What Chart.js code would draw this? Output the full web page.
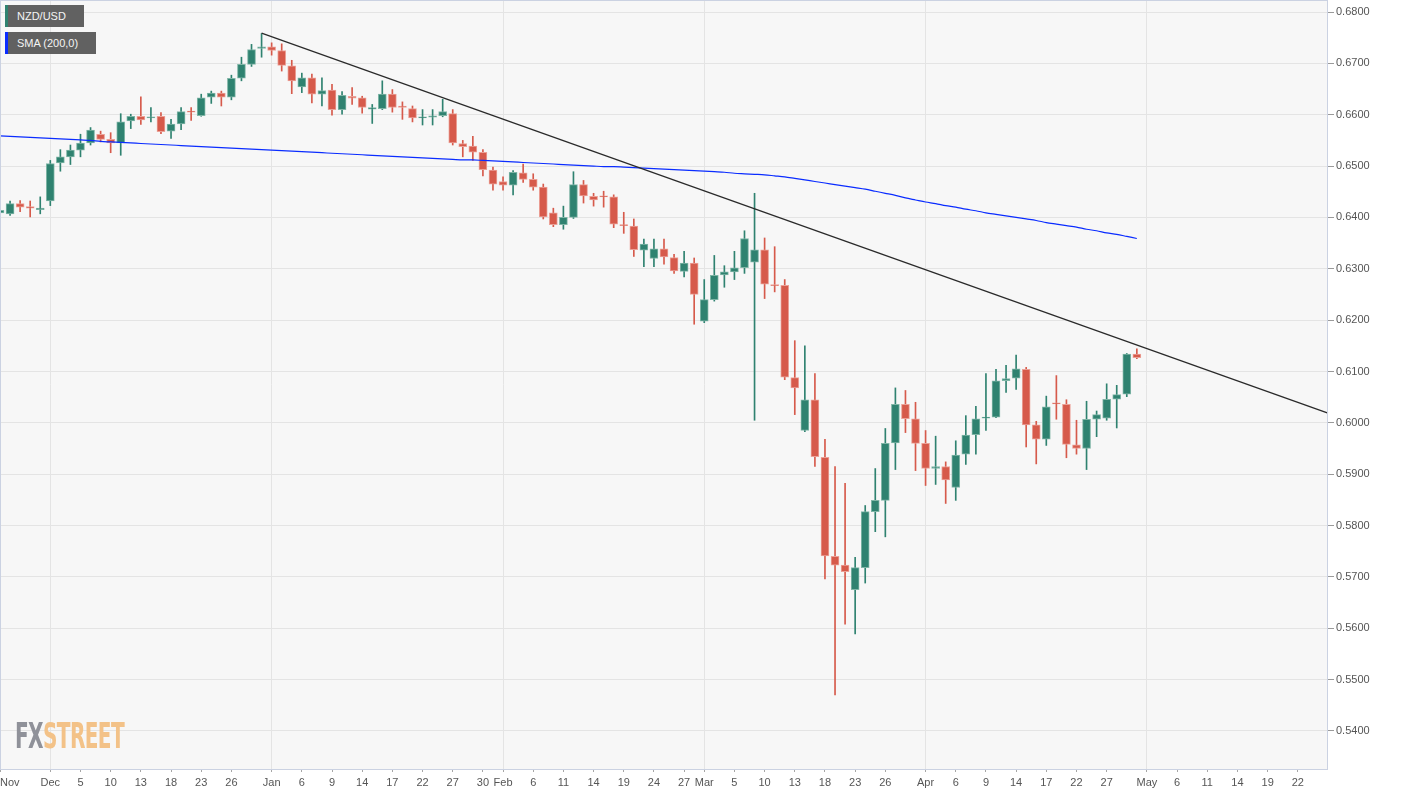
<!DOCTYPE html>
<html>
<head>
<meta charset="utf-8">
<script src="https://cdn.jsdelivr.net/npm/chart.js@4.4.1/dist/chart.umd.min.js"></script>
<style>
html,body{margin:0;padding:0;background:#ffffff;}
#wrap{position:relative;width:1405px;height:795px;overflow:hidden;}
#c{position:absolute;left:0;top:0;}
.tag{position:absolute;left:5px;height:22px;background:#616161;color:#f4f4f4;font:11px "Liberation Sans",Arial,sans-serif;line-height:22px;padding-left:12px;box-sizing:border-box;white-space:nowrap;}
.tag i{position:absolute;left:0;top:0;width:3px;height:22px;}
#wm{position:absolute;left:15px;top:719px;font:bold 35px "DejaVu Sans Condensed","DejaVu Sans",sans-serif;line-height:35px;transform-origin:0 0;white-space:nowrap;letter-spacing:-1px;}
#wm .a{color:#8f9199;}
#wm .b{color:#f3c288;}
</style>
</head>
<body>
<div id="wrap">
<canvas id="c" width="1405" height="795"></canvas>
<div class="tag" style="top:5px;width:79px;"><i style="background:#2f8270"></i>NZD/USD</div>
<div class="tag" style="top:32px;width:91px;"><i style="background:#0a2cff"></i>SMA (200,0)</div>
<div id="wm"><span class="a">FX</span><span class="b">STREET</span></div>
</div>
<script>
// ---- categories (every weekday) ----
const categories = [
'2019-11-25','2019-11-26','2019-11-27','2019-11-28','2019-11-29',
'2019-12-02','2019-12-03','2019-12-04','2019-12-05','2019-12-06','2019-12-09','2019-12-10','2019-12-11','2019-12-12','2019-12-13',
'2019-12-16','2019-12-17','2019-12-18','2019-12-19','2019-12-20','2019-12-23','2019-12-24','2019-12-25','2019-12-26','2019-12-27','2019-12-30','2019-12-31',
'2020-01-01','2020-01-02','2020-01-03','2020-01-06','2020-01-07','2020-01-08','2020-01-09','2020-01-10','2020-01-13','2020-01-14','2020-01-15','2020-01-16','2020-01-17',
'2020-01-20','2020-01-21','2020-01-22','2020-01-23','2020-01-24','2020-01-27','2020-01-28','2020-01-29','2020-01-30','2020-01-31',
'2020-02-03','2020-02-04','2020-02-05','2020-02-06','2020-02-07','2020-02-10','2020-02-11','2020-02-12','2020-02-13','2020-02-14',
'2020-02-17','2020-02-18','2020-02-19','2020-02-20','2020-02-21','2020-02-24','2020-02-25','2020-02-26','2020-02-27','2020-02-28',
'2020-03-02','2020-03-03','2020-03-04','2020-03-05','2020-03-06','2020-03-09','2020-03-10','2020-03-11','2020-03-12','2020-03-13',
'2020-03-16','2020-03-17','2020-03-18','2020-03-19','2020-03-20','2020-03-23','2020-03-24','2020-03-25','2020-03-26','2020-03-27','2020-03-30','2020-03-31',
'2020-04-01','2020-04-02','2020-04-03','2020-04-06','2020-04-07','2020-04-08','2020-04-09','2020-04-10','2020-04-13','2020-04-14','2020-04-15','2020-04-16','2020-04-17',
'2020-04-20','2020-04-21','2020-04-22','2020-04-23','2020-04-24','2020-04-27','2020-04-28','2020-04-29','2020-04-30',
'2020-05-01','2020-05-04','2020-05-05','2020-05-06','2020-05-07','2020-05-08','2020-05-11','2020-05-12','2020-05-13','2020-05-14','2020-05-15',
'2020-05-18','2020-05-19','2020-05-20','2020-05-21','2020-05-22','2020-05-25','2020-05-26','2020-05-27'
];

// ---- OHLC series (NZD/USD daily) ----
const openVals = [
0.6409,0.6407,0.6427,0.6421,0.6415,
0.6432,0.6506,0.6518,0.6531,0.6545,0.6562,0.6552,0.6545,0.6588,0.6597,
0.6594,0.6597,0.6568,0.6582,0.6607,0.6598,0.6634,0.6642,0.6634,0.6671,0.6698,0.6729,
0.6732,0.6725,0.6695,0.6654,0.6672,0.6640,0.6648,0.6610,0.6636,0.6633,0.6611,0.6612,0.6640,
0.6617,0.6612,0.6594,0.6595,0.6598,0.6602,0.6544,0.6539,0.6527,0.6492,
0.6470,0.6463,0.6487,0.6474,0.6459,0.6409,0.6386,0.6400,0.6464,0.6441,
0.6442,0.6440,0.6386,0.6383,0.6336,0.6320,0.6339,0.6322,0.6295,0.6311,
0.6198,0.6240,0.6288,0.6294,0.6302,0.6313,0.6337,0.6269,0.6268,0.6088,
0.5985,0.6045,0.5933,0.5740,0.5723,0.5675,0.5718,0.5827,0.5849,0.5961,0.6036,0.6008,
0.5960,0.5911,0.5915,0.5874,0.5939,0.5977,0.6009,0.6011,0.6082,0.6087,0.6104,0.5996,0.5968,
0.6039,0.6036,0.5957,0.5950,0.6007,0.6009,0.6046,0.6056,0.6134
];
const highVals = [
0.6429,0.6432,0.6433,0.6432,0.6440,
0.6511,0.6532,0.6541,0.6562,0.6575,0.6568,0.6565,0.6602,0.6601,0.6635,
0.6614,0.6604,0.6591,0.6614,0.6614,0.6640,0.6646,0.6646,0.6677,0.6712,0.6737,0.6758,
0.6740,0.6738,0.6706,0.6681,0.6679,0.6672,0.6659,0.6645,0.6653,0.6636,0.6620,0.6666,0.6649,
0.6625,0.6617,0.6610,0.6610,0.6630,0.6610,0.6550,0.6558,0.6532,0.6498,
0.6479,0.6491,0.6504,0.6485,0.6465,0.6418,0.6422,0.6489,0.6472,0.6447,
0.6451,0.6444,0.6410,0.6397,0.6358,0.6358,0.6358,0.6328,0.6334,0.6321,
0.6279,0.6326,0.6306,0.6334,0.6374,0.6447,0.6360,0.6343,0.6279,0.6160,
0.6150,0.6096,0.5968,0.5915,0.5882,0.5738,0.5839,0.5911,0.5989,0.6068,0.6063,0.6040,
0.5985,0.5974,0.5924,0.5965,0.6014,0.6032,0.6096,0.6104,0.6112,0.6132,0.6108,0.6003,0.6052,
0.6092,0.6045,0.6005,0.6042,0.6023,0.6076,0.6073,0.6135,0.6144
];
const lowVals = [
0.6393,0.6404,0.6411,0.6401,0.6407,
0.6423,0.6490,0.6503,0.6518,0.6541,0.6547,0.6526,0.6521,0.6573,0.6581,
0.6586,0.6563,0.6554,0.6571,0.6589,0.6597,0.6622,0.6617,0.6629,0.6666,0.6694,0.6712,
0.6716,0.6685,0.6641,0.6643,0.6623,0.6617,0.6599,0.6601,0.6620,0.6603,0.6583,0.6610,0.6605,
0.6591,0.6586,0.6580,0.6580,0.6596,0.6541,0.6518,0.6511,0.6481,0.6453,
0.6453,0.6444,0.6468,0.6453,0.6397,0.6382,0.6377,0.6398,0.6428,0.6422,
0.6420,0.6380,0.6369,0.6324,0.6304,0.6304,0.6309,0.6291,0.6284,0.6192,
0.6195,0.6237,0.6264,0.6279,0.6291,0.6005,0.6242,0.6255,0.6084,0.6016,
0.5983,0.5915,0.5696,0.5470,0.5608,0.5589,0.5688,0.5788,0.5778,0.5909,0.5981,0.5907,
0.5878,0.5880,0.5843,0.5849,0.5919,0.5939,0.5985,0.6010,0.6059,0.6065,0.5953,0.5920,0.5956,
0.6007,0.5932,0.5939,0.5909,0.5973,0.6005,0.5990,0.6051,0.6125
];
const closeVals = [
0.6414,0.6427,0.6420,0.6418,0.6418,
0.6505,0.6518,0.6531,0.6545,0.6570,0.6552,0.6545,0.6586,0.6597,0.6590,
0.6596,0.6567,0.6582,0.6606,0.6605,0.6633,0.6642,0.6634,0.6671,0.6698,0.6727,0.6732,
0.6725,0.6696,0.6666,0.6672,0.6640,0.6647,0.6610,0.6638,0.6632,0.6614,0.6614,0.6640,0.6614,
0.6614,0.6594,0.6595,0.6598,0.6606,0.6545,0.6538,0.6527,0.6493,0.6465,
0.6463,0.6488,0.6474,0.6459,0.6401,0.6386,0.6400,0.6464,0.6442,0.6434,
0.6440,0.6387,0.6384,0.6337,0.6348,0.6339,0.6323,0.6296,0.6311,0.6250,
0.6240,0.6287,0.6294,0.6302,0.6359,0.6337,0.6270,0.6267,0.6089,0.6068,
0.6045,0.5934,0.5741,0.5723,0.5710,0.5718,0.5827,0.5849,0.5960,0.6036,0.6008,0.5960,
0.5911,0.5915,0.5889,0.5937,0.5976,0.6008,0.6011,0.6082,0.6086,0.6105,0.5996,0.5968,0.6031,
0.6037,0.5958,0.5950,0.6007,0.6016,0.6046,0.6055,0.6134,0.6127
];

// ---- 200-day SMA ----
const smaVals = [
0.6559,0.6558,0.6557,0.6556,0.6555,
0.6554,0.6553,0.6552,0.6551,0.6550,0.6548,0.6547,0.6546,0.6545,0.6544,
0.6543,0.6542,0.6541,0.6540,0.6539,0.6538,0.6537,0.6536,0.6535,0.6534,0.6533,0.6532,
0.6531,0.6530,0.6529,0.6528,0.6527,0.6526,0.6525,0.6524,0.6523,0.6522,0.6521,0.6520,0.6519,
0.6518,0.6517,0.6516,0.6515,0.6514,0.6513,0.6512,0.6512,0.6511,0.6510,
0.6509,0.6508,0.6507,0.6506,0.6505,0.6504,0.6503,0.6502,0.6501,0.6500,
0.6499,0.6499,0.6498,0.6497,0.6496,0.6495,0.6494,0.6493,0.6492,0.6491,
0.6490,0.6489,0.6488,0.6486,0.6485,0.6484,0.6483,0.6481,0.6479,0.6476,
0.6473,0.6470,0.6467,0.6464,0.6461,0.6458,0.6455,0.6451,0.6447,0.6443,0.6438,0.6434,
0.6430,0.6427,0.6423,0.6420,0.6416,0.6413,0.6409,0.6406,0.6403,0.6400,0.6397,0.6394,0.6390,
0.6387,0.6384,0.6381,0.6377,0.6374,0.6370,0.6367,0.6363,0.6359
];

// ---- trend line anchor points ----
const trendDates = ['2019-12-31','2020-05-27'];
const trendValues = [0.6759, 0.6019];

// ---- axis ticks ----
const yTicks = [0.54,0.55,0.56,0.57,0.58,0.59,0.60,0.61,0.62,0.63,0.64,0.65,0.66,0.67,0.68];
const xTickDates = ['2019-11-25','2019-12-02','2019-12-05','2019-12-10','2019-12-13','2019-12-18','2019-12-23','2019-12-26',
 '2020-01-01','2020-01-06','2020-01-09','2020-01-14','2020-01-17','2020-01-22','2020-01-27','2020-01-30',
 '2020-02-03','2020-02-06','2020-02-11','2020-02-14','2020-02-19','2020-02-24','2020-02-27',
 '2020-03-02','2020-03-05','2020-03-10','2020-03-13','2020-03-18','2020-03-23','2020-03-26',
 '2020-04-01','2020-04-06','2020-04-09','2020-04-14','2020-04-17','2020-04-22','2020-04-27',
 '2020-05-01','2020-05-06','2020-05-11','2020-05-14','2020-05-19','2020-05-22'];
const xTickLabels = ['Nov','Dec','5','10','13','18','23','26',
 'Jan','6','9','14','17','22','27','30',
 'Feb','6','11','14','19','24','27',
 'Mar','5','10','13','18','23','26',
 'Apr','6','9','14','17','22','27',
 'May','6','11','14','19','22'];
const monthStarts = ['2019-12-02','2020-01-01','2020-02-03','2020-03-02','2020-04-01','2020-05-01'];

// ---- derived structures ----
const bodies = openVals.map((o,i)=>[o, closeVals[i]]);
const wicks = lowVals.map((l,i)=>[l, highVals[i]]);
const trendData = categories.map(d => { const k = trendDates.indexOf(d); return k >= 0 ? trendValues[k] : null; });
const labelFor = i => { const k = xTickDates.indexOf(categories[i]); return k >= 0 ? xTickLabels[k] : ''; };

const GREEN = '#2f8270', RED = '#d65a4b';
const GREEN_B = '#7fb5a6', RED_B = '#eba197';
const isUp = i => closeVals[i] >= openVals[i];
const FONT = '"Liberation Sans", Arial, Helvetica, sans-serif';

const areaPlugin = {
  id: 'area',
  beforeDraw(chart) {
    const {ctx, chartArea: a} = chart;
    ctx.save();
    ctx.fillStyle = '#f7f7f7';
    ctx.fillRect(a.left, a.top, a.right - a.left, a.bottom - a.top);
    ctx.restore();
  },
  afterDraw(chart) {
    const {ctx, chartArea: a} = chart;
    ctx.save();
    ctx.strokeStyle = '#cbd2e2';
    ctx.lineWidth = 1;
    ctx.strokeRect(a.left + 0.5, a.top + 0.5, a.right - a.left - 1, a.bottom - a.top);
    ctx.restore();
  }
};

new Chart(document.getElementById('c'), {
  type: 'bar',
  data: {
    labels: categories,
    datasets: [
      { type: 'line', label: 'Trend', data: trendData, borderColor: '#2a2a2a', borderWidth: 1.3,
        pointRadius: 0, spanGaps: true, order: 0 },
      { type: 'line', label: 'SMA (200,0)', data: smaVals, borderColor: '#0a2cff', borderWidth: 1.2,
        pointRadius: 0, tension: 0.3, order: 0 },
      { label: 'body', data: bodies, grouped: false, barThickness: 8, minBarLength: 1,
        backgroundColor: c => isUp(c.dataIndex) ? GREEN : RED,
        borderColor: c => isUp(c.dataIndex) ? GREEN_B : RED_B,
        borderWidth: 1, borderSkipped: false, order: 1 },
      { label: 'wick', data: wicks, grouped: false, barThickness: 1,
        backgroundColor: c => isUp(c.dataIndex) ? GREEN : RED,
        borderWidth: 0, order: 2 }
    ]
  },
  options: {
    responsive: false,
    animation: false,
    devicePixelRatio: 1,
    events: [],
    layout: { padding: 0 },
    plugins: { legend: { display: false }, tooltip: { enabled: false } },
    scales: {
      x: {
        type: 'category',
        offset: false,
        border: { display: false },
        grid: {
          offset: false,
          lineWidth: 1,
          color: c => monthStarts.includes(categories[c.index]) ? '#e4e4e4' : 'rgba(0,0,0,0)',
          tickColor: c => labelFor(c.index) ? '#a6a6a6' : 'rgba(0,0,0,0)',
          tickLength: 3
        },
        ticks: {
          autoSkip: false, maxRotation: 0, minRotation: 0, align: 'inner', padding: 4,
          color: '#555555', font: { family: FONT, size: 11 },
          callback: (v, i) => labelFor(i)
        },
        afterFit(s) { s.height = 26; s.paddingLeft = 0; s.paddingRight = 0; }
      },
      y: {
        position: 'right',
        min: 0.53259, max: 0.68234,
        afterBuildTicks(s) { s.ticks = yTicks.map(v => ({ value: v })); },
        border: { display: false },
        grid: { color: '#e4e4e4', tickColor: '#9a9a9a', tickLength: 6, lineWidth: 1 },
        ticks: {
          padding: 2, color: '#555555', font: { family: FONT, size: 11 },
          callback: v => Number(v).toFixed(4)
        },
        afterFit(s) { s.width = 77; s.paddingTop = 0; s.paddingBottom = 0; }
      }
    }
  },
  plugins: [areaPlugin]
});

// fit watermark width
const wm = document.getElementById('wm');
const w = wm.getBoundingClientRect().width;
wm.style.transform = 'scaleX(' + (109 / w) + ')';
</script>
</body>
</html>
